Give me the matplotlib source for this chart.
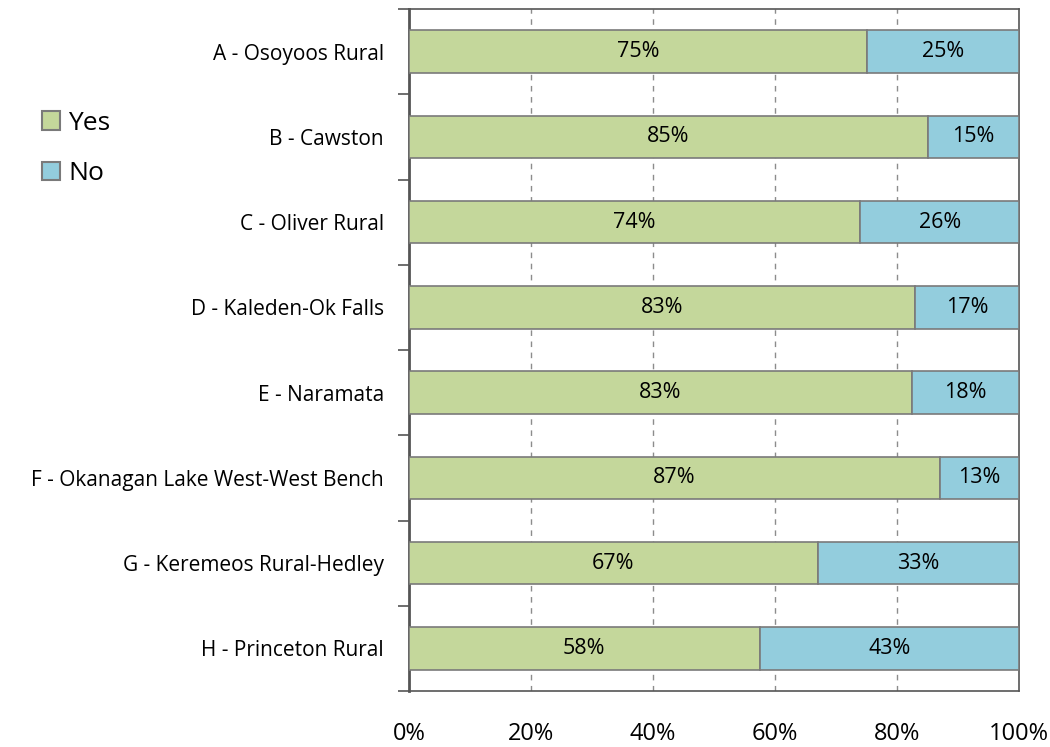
import matplotlib
matplotlib.use("Agg")
import matplotlib.pyplot as plt
import numpy as np
from matplotlib.patches import Patch

plt.rcParams['font.family'] = ['Open Sans', 'DejaVu Sans']

categories = ["A - Osoyoos Rural", "B - Cawston", "C - Oliver Rural",
              "D - Kaleden-Ok Falls", "E - Naramata",
              "F - Okanagan Lake West-West Bench",
              "G - Keremeos Rural-Hedley", "H - Princeton Rural"]
yes_vals = [75, 85, 74, 83, 82.5, 87, 67, 57.5]
no_vals = [25, 15, 26, 17, 17.5, 13, 33, 42.5]
xtick_vals = [0, 20, 40, 60, 80, 100]
xtick_labels = ["0%", "20%", "40%", "60%", "80%", "100%"]

yes_color = "#c4d79b"
no_color = "#93cddd"
edge = "#7a7a7a"

def fmt(v):
    return f"{int(np.floor(v + 0.5))}%"

fig = plt.figure(figsize=(10.5, 7.47), dpi=100)
ax = fig.add_axes([409/1050, 1-691/747, 610/1050, 682/747])

y = np.arange(len(categories))
tot = np.array(yes_vals) + np.array(no_vals)
yp = np.array(yes_vals) / tot * 100
npct = np.array(no_vals) / tot * 100

ax.barh(y, yp, height=0.5, color=yes_color, edgecolor=edge, linewidth=1.2, zorder=3)
ax.barh(y, npct, left=yp, height=0.5, color=no_color, edgecolor=edge, linewidth=1.2, zorder=3)

for i in range(len(categories)):
    ax.text(yp[i]/2, y[i], fmt(yes_vals[i]), ha='center', va='center', fontsize=15.5, zorder=4)
    ax.text(yp[i] + npct[i]/2, y[i], fmt(no_vals[i]), ha='center', va='center', fontsize=15.5, zorder=4)

ax.set_xlim(0, 100)
ax.set_ylim(len(categories) - 0.5, -0.5)
ax.set_yticks(y)
ax.set_yticklabels(categories, fontsize=15)
ax.set_yticks(np.arange(-0.5, len(categories)), minor=True)
ax.tick_params(axis='y', which='major', length=0, pad=18)
ax.tick_params(axis='y', which='minor', length=8, width=1.2, color='#555555', direction='out')
ax.set_xticks(xtick_vals)
ax.set_xticklabels(xtick_labels, fontsize=17)
ax.tick_params(axis='x', length=0, pad=22)

for v in xtick_vals[1:-1]:
    ax.axvline(v, color='#8c8c8c', linestyle=(0, (4, 4)), linewidth=1, zorder=1)

for s in ['top', 'right', 'bottom']:
    ax.spines[s].set_color('#555555')
    ax.spines[s].set_linewidth(1.2)
ax.spines['left'].set_color('#555555')
ax.spines['left'].set_linewidth(2)

handles = [Patch(facecolor=yes_color, edgecolor=edge, linewidth=1.5, label="Yes"),
           Patch(facecolor=no_color, edgecolor=edge, linewidth=1.5, label="No")]
fig.legend(handles=handles, loc='upper left', bbox_to_anchor=(34/1050, 1-103/747),
           frameon=False, fontsize=19, handlelength=0.7, handleheight=0.7,
           handletextpad=0.3, labelspacing=0.95, borderaxespad=0, borderpad=0.3)

fig.savefig("out.png", dpi=100)
